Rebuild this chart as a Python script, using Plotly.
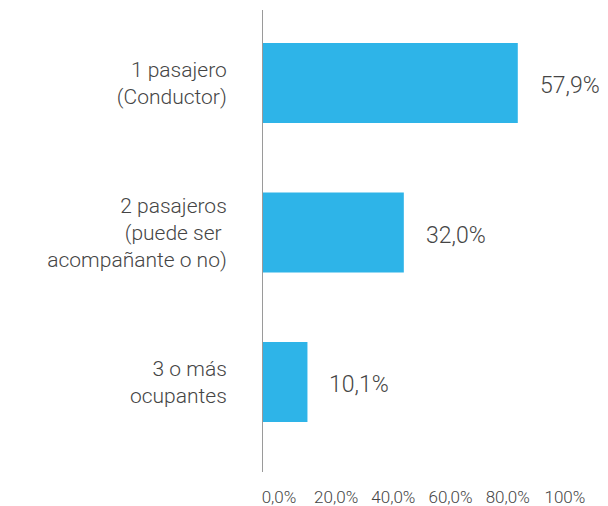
import plotly.graph_objects as go

categories = ["1 pasajero<br>(Conductor)",
              "2 pasajeros<br>(puede ser <br>acompañante o no)",
              "3 o más<br>ocupantes"]
values = [57.9, 32.0, 10.1]
value_labels = ["57,9%", "32,0%", "10,1%"]
tick_vals = [0, 20, 40, 60, 80, 100]
tick_text = ["0,0%", "20,0%", "40,0%", "60,0%", "80,0%", "100%"]

FONT = "Roboto"
TXT = "#454545"

fig = go.Figure()
fig.add_trace(go.Bar(
    y=categories, x=values, orientation="h",
    marker=dict(color="#2EB4E8", line=dict(width=0)),
    width=0.535, hoverinfo="skip", showlegend=False,
    xaxis="x", yaxis="y",
))
# invisible trace carrying the separate percentage scale shown at the bottom
fig.add_trace(go.Scatter(
    x=[tick_vals[0], tick_vals[-1]], y=[0, 0],
    xaxis="x2", yaxis="y2", mode="markers", marker=dict(opacity=0),
    hoverinfo="skip", showlegend=False,
))

for c, v, t in zip(categories, values, value_labels):
    fig.add_annotation(x=v, y=c, xref="x", yref="y", text=t, showarrow=False,
                       xanchor="left", xshift=20, yshift=-3,
                       font=dict(family=FONT, size=23, color=TXT, weight=300))

# page body has an 8px margin, so the figure is 8px smaller than the window
fig.update_layout(
    width=600, height=498,
    margin=dict(l=255, r=0, t=2, b=34, autoexpand=False),
    paper_bgcolor="white", plot_bgcolor="white",
    font=dict(family=FONT, color=TXT, weight=300),
    xaxis=dict(range=[0, 78.4], showticklabels=False, showgrid=False,
               zeroline=False, showline=False, fixedrange=True, automargin=False),
    xaxis2=dict(domain=[0.0464, 0.875], anchor="y2",
                range=[0, 100], tickvals=tick_vals, ticktext=tick_text,
                showgrid=False, zeroline=False, showline=False, ticks="",
                ticklabelstandoff=13, automargin=False,
                tickfont=dict(family=FONT, size=17, color=TXT, weight=300)),
    yaxis2=dict(domain=[0, 0.01], range=[-1, 1], visible=False),
    yaxis=dict(categoryorder="array", categoryarray=categories,
               range=[2.602, -0.488], showgrid=False, zeroline=False,
               showline=True, linecolor="#9a9a9a", linewidth=1, ticks="",
               ticklabelstandoff=31, automargin=False,
               tickfont=dict(family=FONT, size=21, color=TXT, weight=300)),
)

fig.write_html("out.html")
